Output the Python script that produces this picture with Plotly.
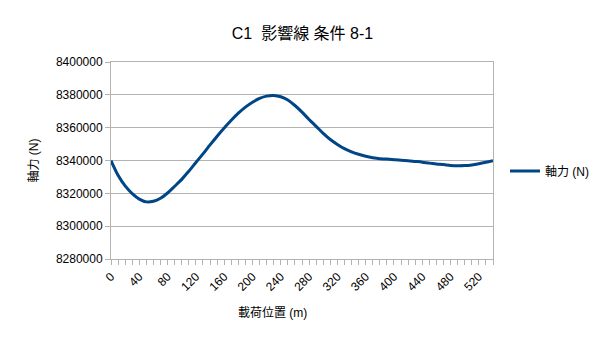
import plotly.graph_objects as go

# Data
positions = list(range(0, 550, 10))
axial_force = [
    8340000, 8331000, 8324500, 8319800, 8316500, 8314800, 8315200, 8317000, 8320200, 8324300,
    8328500, 8333500, 8338800, 8344000, 8349500, 8354800, 8359800, 8364500, 8368800, 8372500,
    8375500, 8377800, 8379200, 8379600, 8378800, 8376800, 8373500, 8369500, 8365000, 8360800,
    8356500, 8352800, 8349800, 8347200, 8345300, 8343800, 8342600, 8341700, 8341100, 8340900,
    8340500, 8340100, 8339800, 8339400, 8339000, 8338400, 8337900, 8337500, 8337000, 8336800,
    8336900, 8337300, 8338000, 8338900, 8339900,
]
x_tick_vals = list(range(0, 521, 40))
y_tick_vals = list(range(8280000, 8400001, 20000))

title_text = "C1  影響線 条件 8-1"
series_name = "軸力 (N)"
x_title = "載荷位置 (m)"
y_title = "軸力 (N)"

FONT = "Liberation Sans, Noto Sans CJK JP, sans-serif"
GRID = "#b3b3b3"

fig = go.Figure()
fig.add_trace(go.Scatter(
    x=positions, y=axial_force, mode="lines", name=series_name,
    line=dict(color="#004586", width=3, shape="spline", smoothing=0.8),
))

W, H = 605, 341
L, R, T, B = 111, 111, 62, 82
pw = W - L - R
ph = H - T - B

fig.update_layout(
    width=W, height=H,
    margin=dict(l=L, r=R, t=T, b=B),
    paper_bgcolor="white", plot_bgcolor="white",
    font=dict(family=FONT, size=12, color="#000000"),
    title=dict(text=title_text, x=0.5, xanchor="center", y=1 - 33 / H, yanchor="middle",
               font=dict(size=16, family=FONT, color="#000000")),
    showlegend=True,
    legend=dict(x=(505 - L) / pw, xanchor="left", y=(H - B - 171) / ph, yanchor="middle",
                font=dict(size=12, family=FONT), bgcolor="rgba(0,0,0,0)",
                itemwidth=30),
    xaxis=dict(
        range=[0, 540], tickmode="array", tickvals=x_tick_vals,
        ticktext=[str(v) for v in x_tick_vals],
        tickangle=-45, ticks="outside", ticklen=5, tickcolor=GRID,
        minor=dict(dtick=10, tick0=0, ticks="outside", ticklen=5, tickcolor=GRID, showgrid=False),
        showgrid=False, showline=True, linecolor=GRID, linewidth=1, mirror=True,
        zeroline=False, tickfont=dict(size=12, family=FONT),
    ),
    yaxis=dict(
        range=[8280000, 8400000], tickmode="array", tickvals=y_tick_vals,
        ticktext=[str(v) for v in y_tick_vals],
        ticks="outside", ticklen=5, tickcolor=GRID,
        showgrid=True, gridcolor=GRID, gridwidth=1,
        showline=True, linecolor=GRID, linewidth=1, mirror=True,
        zeroline=False, tickfont=dict(size=12, family=FONT),
        title=dict(text=y_title, font=dict(size=12, family=FONT), standoff=14),
    ),
    annotations=[dict(
        text=x_title, xref="paper", yref="paper",
        x=(273 - L) / pw, y=-(313 - (H - B)) / ph, xanchor="center", yanchor="middle",
        showarrow=False, font=dict(size=12, family=FONT),
    )],
)

fig.write_html("out.html")
